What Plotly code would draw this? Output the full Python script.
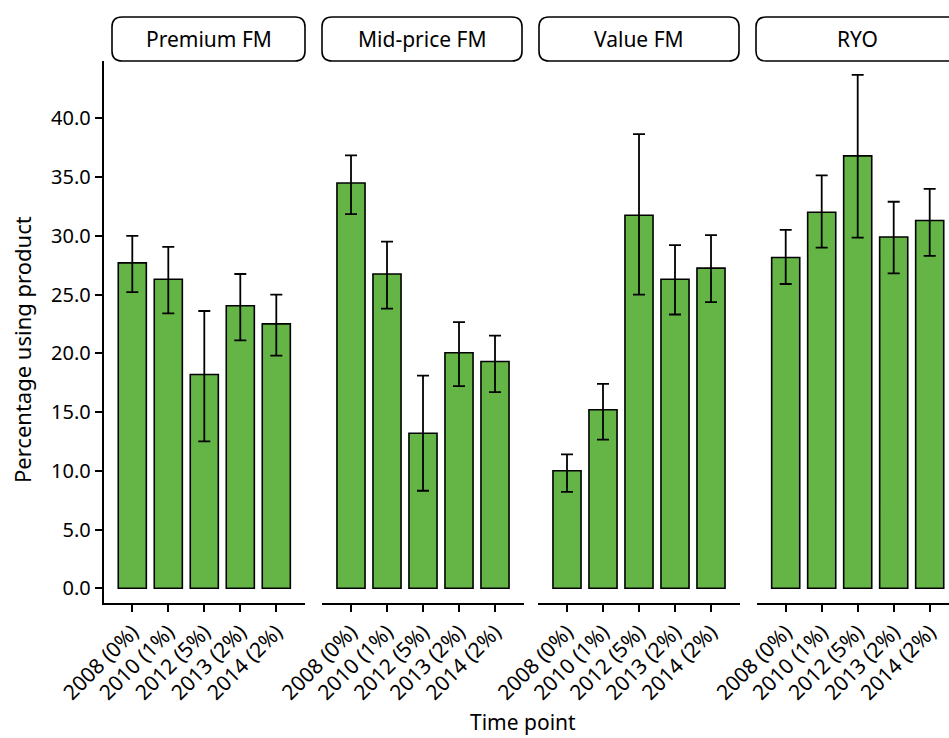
import plotly.graph_objects as go

W, H = 949, 738

panels = ["Premium FM", "Mid-price FM", "Value FM", "RYO"]
categories = ["2008 (0%)", "2010 (1%)", "2012 (5%)", "2013 (2%)", "2014 (2%)"]

premium_val = [27.7, 26.3, 18.2, 24.05, 22.5]
premium_lo = [25.2, 23.4, 12.5, 21.1, 19.8]
premium_hi = [30.0, 29.05, 23.6, 26.75, 25.0]

midprice_val = [34.5, 26.75, 13.2, 20.05, 19.3]
midprice_lo = [31.85, 23.8, 8.3, 17.2, 16.7]
midprice_hi = [36.85, 29.5, 18.1, 22.65, 21.5]

value_val = [10.0, 15.2, 31.75, 26.3, 27.25]
value_lo = [8.2, 12.65, 25.0, 23.3, 24.35]
value_hi = [11.4, 17.4, 38.65, 29.2, 30.05]

ryo_val = [28.15, 32.0, 36.8, 29.9, 31.3]
ryo_lo = [25.9, 29.0, 29.85, 26.8, 28.3]
ryo_hi = [30.5, 35.15, 43.7, 32.9, 34.0]

y_ticks = [0, 5, 10, 15, 20, 25, 30, 35, 40]
y_ticklabels = ["0.0", "5.0", "10.0", "15.0", "20.0", "25.0", "30.0", "35.0", "40.0"]

series = [
    (premium_val, premium_lo, premium_hi),
    (midprice_val, midprice_lo, midprice_hi),
    (value_val, value_lo, value_hi),
    (ryo_val, ryo_lo, ryo_hi),
]

FONT = "Noto Sans"
GREEN = "#64B446"


def fx(px):
    return px / W


def fy(py):
    return 1 - py / H


# panel pixel extents (left, right) and x-ranges (category index)
panel_px = [(103.5, 305.1), (322.2, 523.8), (538.2, 739.8), (756.9, 949.0)]
panel_range = [[-0.8, 4.8], [-0.8, 4.8], [-0.8, 4.8], [-0.8, 4.8 - 9.5 / 36]]
strip_px = [(112, 305), (322, 522), (539, 739), (756, 975)]
strip_cx = [208.5, 422, 639, 857]

y_top_px, y_bot_px = 61.0, 602.7
y_range = [-1.23, 44.88]

fig = go.Figure()
layout = dict(
    width=W, height=H,
    margin=dict(l=0, r=0, t=0, b=0),
    paper_bgcolor="white", plot_bgcolor="white",
    showlegend=False,
    font=dict(family=FONT, color="black", size=20),
)

for i, (vals, lo, hi) in enumerate(series):
    n = "" if i == 0 else str(i + 1)
    fig.add_trace(go.Bar(
        x=categories, y=vals,
        xaxis="x" + n, yaxis="y" + n,
        marker=dict(color=GREEN, line=dict(color="black", width=1.6)),
        width=0.78,
        error_y=dict(type="data", symmetric=False,
                     array=[h - v for h, v in zip(hi, vals)],
                     arrayminus=[v - l for v, l in zip(vals, lo)],
                     color="black", thickness=1.8, width=6),
    ))
    l, r = panel_px[i]
    layout["xaxis" + n] = dict(
        domain=[fx(l), fx(r)], range=panel_range[i], anchor="y" + n,
        type="category", categoryorder="array", categoryarray=categories,
        showline=True, linecolor="black", linewidth=1.6,
        ticks="outside", ticklen=7, tickwidth=1.6, tickcolor="black",
        tickangle=-45, tickfont=dict(family=FONT, size=21, color="black"),
        showgrid=False, zeroline=False, automargin=False, fixedrange=True,
    )
    ydict = dict(
        domain=[fy(y_bot_px), fy(y_top_px)], range=y_range, anchor="x" + n,
        showgrid=False, zeroline=False, automargin=False, fixedrange=True,
    )
    if i == 0:
        ydict.update(
            showline=True, linecolor="black", linewidth=1.6,
            ticks="outside", ticklen=7, tickwidth=1.6, tickcolor="black",
            tickvals=y_ticks, ticktext=y_ticklabels,
            tickfont=dict(family=FONT, size=20, color="black"),
        )
    else:
        ydict.update(showline=False, showticklabels=False, ticks="")
    layout["yaxis" + n] = ydict

fig.update_layout(**layout)

# strip boxes with rounded corners
shapes = []
annotations = []
rad = 10
for i, name in enumerate(panels):
    l, r = strip_px[i]
    t, b = 17, 61
    p = (f"M {fx(l + rad)},{fy(t)} L {fx(r - rad)},{fy(t)} "
         f"Q {fx(r)},{fy(t)} {fx(r)},{fy(t + rad)} "
         f"L {fx(r)},{fy(b - rad)} Q {fx(r)},{fy(b)} {fx(r - rad)},{fy(b)} "
         f"L {fx(l + rad)},{fy(b)} Q {fx(l)},{fy(b)} {fx(l)},{fy(b - rad)} "
         f"L {fx(l)},{fy(t + rad)} Q {fx(l)},{fy(t)} {fx(l + rad)},{fy(t)} Z")
    shapes.append(dict(type="path", path=p, xref="paper", yref="paper",
                       line=dict(color="black", width=1.6), fillcolor="white"))
    annotations.append(dict(text=name, x=fx(strip_cx[i]), y=fy(39), xref="paper", yref="paper",
                            showarrow=False, xanchor="center", yanchor="middle",
                            font=dict(family=FONT, size=21, color="black")))

annotations.append(dict(text="Time point", x=fx(523), y=fy(722), xref="paper", yref="paper",
                        showarrow=False, xanchor="center", yanchor="middle",
                        font=dict(family=FONT, size=21, color="black")))
annotations.append(dict(text="Percentage using product", x=fx(22), y=fy(350), xref="paper",
                        yref="paper", showarrow=False, xanchor="center", yanchor="middle",
                        textangle=-90, font=dict(family=FONT, size=22, color="black")))

fig.update_layout(shapes=shapes, annotations=annotations)
fig.write_html("out.html")
